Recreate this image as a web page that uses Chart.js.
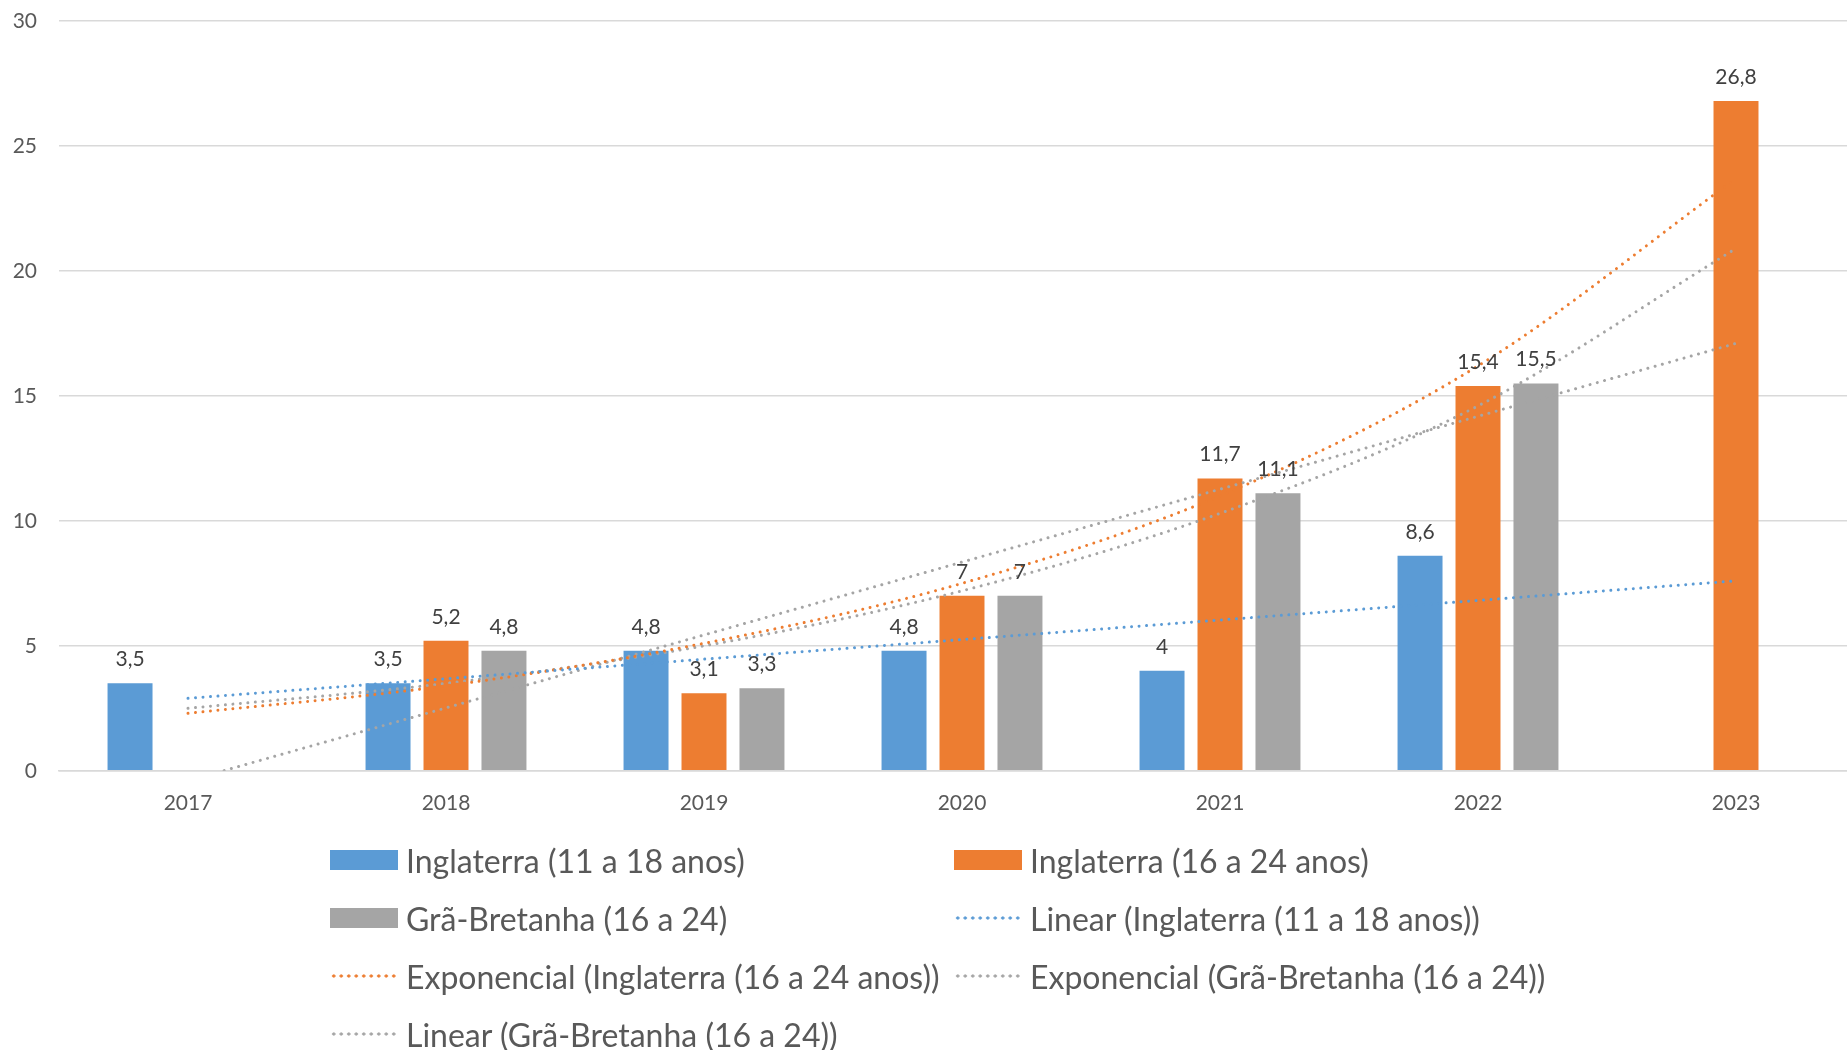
<!DOCTYPE html>
<html lang="pt">
<head>
<meta charset="utf-8">
<title>Inglaterra e Grã-Bretanha</title>
<script src="https://cdn.jsdelivr.net/npm/chart.js@4.4.1/dist/chart.umd.min.js"></script>
<style>
    html, body { margin: 0; padding: 0; background: #fff; overflow: hidden; }
    body { width: 1847px; height: 1050px; position: relative; font-family: Lato, "Open Sans", sans-serif; }
    .chart-box { position: absolute; left: 0; top: 0; width: 1865px; height: 836px; }
    .legend { position: absolute; left: 330px; top: 831px; display: grid;
              grid-template-columns: 624px 624px; grid-auto-rows: 58px; }
    .legend-item { display: flex; align-items: center; font-size: 32px; color: #595959; white-space: nowrap; }
    .legend-item .box { width: 68px; height: 20px; margin-right: 8px; flex: none; }
    .legend-item .dots { width: 68px; height: 4px; margin-right: 8px; flex: none;
                         background-repeat: repeat-x; background-size: 7.5px 4px; }
</style>
</head>
<body>
<div class="chart-box"><canvas id="grafico"></canvas></div>
<div class="legend" id="legenda"></div>
<script>
// Categories and series
const anos = ['2017', '2018', '2019', '2020', '2021', '2022', '2023'];
const inglaterra1118 = [3.5, 3.5, 4.8, 4.8, 4, 8.6, null];
const inglaterra1624 = [null, 5.2, 3.1, 7, 11.7, 15.4, 26.8];
const graBretanha1624 = [null, 4.8, 3.3, 7, 11.1, 15.5, null];

// Trendlines
const linearIng1118 = [2.9, null, null, null, null, null, 7.6];
const expIng1624 = [2.3, 3.4, 5.1, 7.5, 11.0, 16.2, 23.7];
const expGB1624 = [2.5, 3.5, 5.0, 7.2, 10.3, 14.6, 20.9];
const linearGB1624 = [-0.4, null, null, null, null, null, 17.1];

const yMin = 0, yMax = 30, yStep = 5;

const azul = '#5B9BD5';
const laranja = '#ED7D31';
const cinza = '#A5A5A5';

const legendItems = [
    { label: 'Inglaterra (11 a 18 anos)', color: azul, type: 'box' },
    { label: 'Inglaterra (16 a 24 anos)', color: laranja, type: 'box' },
    { label: 'Grã-Bretanha (16 a 24)', color: cinza, type: 'box' },
    { label: 'Linear (Inglaterra (11 a 18 anos))', color: azul, type: 'dots' },
    { label: 'Exponencial (Inglaterra (16 a 24 anos))', color: laranja, type: 'dots' },
    { label: 'Exponencial (Grã-Bretanha (16 a 24))', color: cinza, type: 'dots' },
    { label: 'Linear (Grã-Bretanha (16 a 24))', color: cinza, type: 'dots' }
];

function barSet(label, data, color) {
    return {
        type: 'bar', label: label, data: data, backgroundColor: color,
        categoryPercentage: 0.674, barPercentage: 0.776, order: 1
    };
}

function trendSet(label, data, color, curved) {
    return {
        type: 'line', label: label, data: data, borderColor: color, backgroundColor: color,
        borderWidth: 3, borderDash: [0.01, 7.5], borderCapStyle: 'round',
        pointRadius: 0, spanGaps: true, fill: false, order: 0,
        cubicInterpolationMode: curved ? 'monotone' : 'default', tension: 0
    };
}

// Value labels above the bars, Portuguese decimal comma
const rotulos = {
    id: 'rotulos',
    afterDatasetsDraw(chart) {
        const ctx = chart.ctx;
        ctx.save();
        ctx.font = '21px Lato';
        ctx.fillStyle = '#404040';
        ctx.textAlign = 'center';
        ctx.textBaseline = 'middle';
        chart.data.datasets.forEach((ds, i) => {
            if (ds.type !== 'bar') return;
            chart.getDatasetMeta(i).data.forEach((bar, j) => {
                const v = ds.data[j];
                if (v === null) return;
                ctx.fillText(String(v).replace('.', ','), bar.x, bar.y - 24);
            });
        });
        ctx.restore();
    }
};

const ctx = document.getElementById('grafico').getContext('2d');
new Chart(ctx, {
    data: {
        labels: anos,
        datasets: [
            barSet(legendItems[0].label, inglaterra1118, azul),
            barSet(legendItems[1].label, inglaterra1624, laranja),
            barSet(legendItems[2].label, graBretanha1624, cinza),
            trendSet(legendItems[3].label, linearIng1118, azul, false),
            trendSet(legendItems[4].label, expIng1624, laranja, true),
            trendSet(legendItems[5].label, expGB1624, cinza, true),
            trendSet(legendItems[6].label, linearGB1624, cinza, false)
        ]
    },
    options: {
        responsive: true,
        maintainAspectRatio: false,
        animation: false,
        layout: { padding: { top: 21, right: 0, bottom: 0, left: 0 } },
        plugins: { legend: { display: false }, tooltip: { enabled: false } },
        scales: {
            x: {
                grid: { display: false, drawTicks: false },
                border: { color: '#D9D9D9', width: 1.5 },
                ticks: { color: '#595959', font: { family: 'Lato', size: 21 }, padding: 20 }
            },
            y: {
                min: yMin, max: yMax,
                grid: { color: '#D9D9D9', lineWidth: 1.5, drawTicks: false },
                border: { display: false },
                ticks: { stepSize: yStep, color: '#595959', font: { family: 'Lato', size: 21 }, padding: 22 },
                afterFit(scale) { scale.width = 59; scale.paddingTop = 0; scale.paddingBottom = 0; }
            }
        }
    },
    plugins: [rotulos]
});

// Two-column legend
const legenda = document.getElementById('legenda');
legendItems.forEach(item => {
    const div = document.createElement('div');
    div.className = 'legend-item';
    const mark = document.createElement('span');
    if (item.type === 'box') {
        mark.className = 'box';
        mark.style.background = item.color;
    } else {
        mark.className = 'dots';
        mark.style.backgroundImage = 'radial-gradient(circle, ' + item.color + ' 1.4px, transparent 1.8px)';
    }
    const txt = document.createElement('span');
    txt.textContent = item.label;
    div.appendChild(mark);
    div.appendChild(txt);
    legenda.appendChild(div);
});
</script>
</body>
</html>
